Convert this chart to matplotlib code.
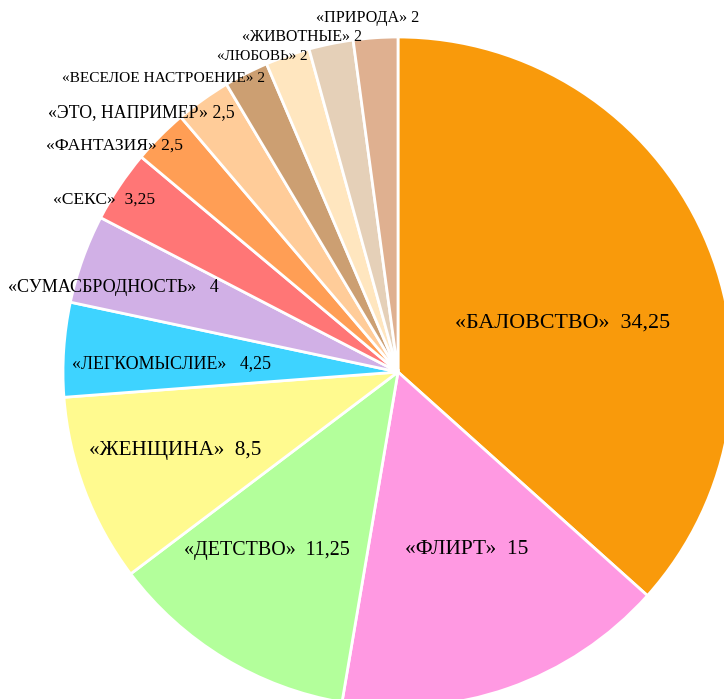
import matplotlib
matplotlib.use("Agg")
import matplotlib.pyplot as plt

categories = ["«БАЛОВСТВО»", "«ФЛИРТ»", "«ДЕТСТВО»", "«ЖЕНЩИНА»", "«ЛЕГКОМЫСЛИЕ»",
              "«СУМАСБРОДНОСТЬ»", "«СЕКС»", "«ФАНТАЗИЯ»", "«ЭТО, НАПРИМЕР»",
              "«ВЕСЕЛОЕ НАСТРОЕНИЕ»", "«ЛЮБОВЬ»", "«ЖИВОТНЫЕ»", "«ПРИРОДА»"]
values = [34.25, 15, 11.25, 8.5, 4.25, 4, 3.25, 2.5, 2.5, 2, 2, 2, 2]
value_labels = ["34,25", "15", "11,25", "8,5", "4,25", "4", "3,25", "2,5", "2,5", "2", "2", "2", "2"]
colors = ["#F99A0B", "#FF99E2", "#B3FF9B", "#FFFA8F", "#3ED3FF", "#D1B0E6", "#FF7676",
          "#FF9E55", "#FFCC99", "#CC9F72", "#FFE6BF", "#E5D0B8", "#DFB090"]

# layout: label centre (x, y from top), font size, separator
label_pos = [(563, 323), (467, 550), (267, 550), (175, 450), (172, 364), (113, 287),
             (104, 200), (115, 146), (141, 113), (164, 79), (262, 57), (302, 37),
             (368, 18)]
label_size = [15.8, 15.4, 14.4, 15.2, 12.9, 13.1, 12.6, 12.6, 12.8, 11.1, 10.9, 11.4, 11.6]
label_sep = ["  ", "  ", "  ", "  ", "   ", "   ", "  ", " ", " ", " ", " ", " ", " "]

W, H = 724, 699
fig = plt.figure(figsize=(W / 100, H / 100), dpi=100)
ax = fig.add_axes([0, 0, 1, 1])

ax.pie(values, colors=colors, startangle=90, counterclock=False,
       center=(398, H - 372), radius=335, frame=True,
       wedgeprops=dict(edgecolor="white", linewidth=2))
ax.set_xlim(0, W)
ax.set_ylim(0, H)
ax.set_aspect("equal")
ax.axis("off")

for cat, vl, (x, y), fs, sep in zip(categories, value_labels, label_pos, label_size, label_sep):
    ax.text(x, H - y, cat + sep + vl, ha="center", va="center", fontsize=fs,
            family="Liberation Serif", color="black")

fig.savefig("out.png", dpi=100)
